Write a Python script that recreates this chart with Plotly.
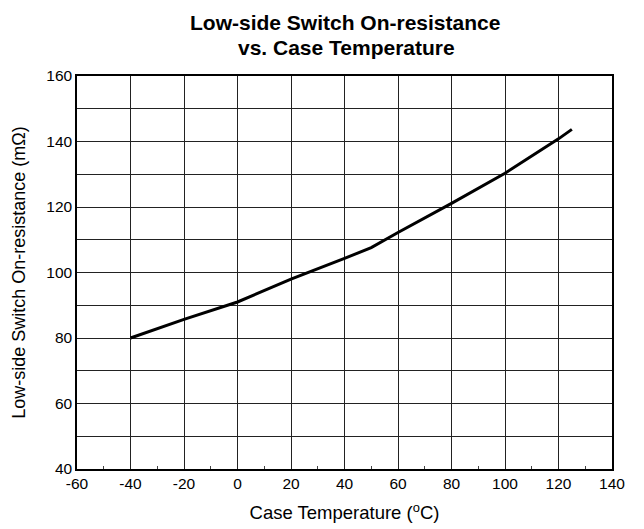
import plotly.graph_objects as go

temperature_c = [-40, -20, 0, 20, 40, 50, 60, 80, 100, 120, 125]
resistance_mohm = [80, 85.7, 91, 98, 104.3, 107.6, 112.2, 121.1, 130.3, 140.8, 143.7]

x_ticks = [-60, -40, -20, 0, 20, 40, 60, 80, 100, 120, 140]
x_minor = [-50, -30, -10, 10, 30, 50, 70, 90, 110, 130]
y_ticks = [40, 60, 80, 100, 120, 140, 160]
y_minor = [50, 70, 90, 110, 130, 150]

FONT = "Liberation Sans, Arial, sans-serif"

fig = go.Figure()
fig.add_trace(go.Scatter(
    x=temperature_c, y=resistance_mohm, mode="lines",
    line=dict(color="black", width=3), showlegend=False,
))

fig.update_layout(
    width=636, height=521,
    margin=dict(l=69, r=32, t=68, b=60),
    paper_bgcolor="white", plot_bgcolor="white",
    font=dict(family=FONT, color="black", size=15.5),
    annotations=[
        dict(text="<b>Low-side Switch On-resistance</b>", xref="paper", yref="paper",
             x=0.5, y=1.0, yshift=54, showarrow=False,
             font=dict(size=21, family=FONT), xanchor="center", yanchor="middle"),
        dict(text="<b>vs. Case Temperature</b>", xref="paper", yref="paper",
             x=0.5, y=1.0, yshift=29, xshift=2, showarrow=False,
             font=dict(size=21, family=FONT), xanchor="center", yanchor="middle"),
    ],
)

fig.update_xaxes(
    range=[-60, 140], tickvals=x_ticks, ticktext=[str(v) for v in x_ticks],
    showgrid=True, gridcolor="#222", gridwidth=1,
    showline=True, linecolor="black", linewidth=1.5, mirror=True,
    ticks="", zeroline=False, automargin=False,
    minor=dict(tickvals=x_minor, ticks="inside", ticklen=3,
               tickcolor="#444", showgrid=False),
    title=dict(text="Case Temperature (<sup>o</sup>C)", font=dict(size=18.5), standoff=15),
    tickfont=dict(size=15.5),
)
fig.update_yaxes(
    range=[40, 160], tickvals=y_ticks, ticktext=[str(v) for v in y_ticks],
    showgrid=True, gridcolor="#222", gridwidth=1,
    showline=True, linecolor="black", linewidth=1.5, mirror=True,
    ticks="", zeroline=False, automargin=False,
    minor=dict(tickvals=y_minor, showgrid=True, gridcolor="#222", gridwidth=1),
    title=dict(text="Low-side Switch On-resistance (m\u03a9)", font=dict(size=18), standoff=16),
    tickfont=dict(size=15.5),
)

fig.write_html("out.html")
